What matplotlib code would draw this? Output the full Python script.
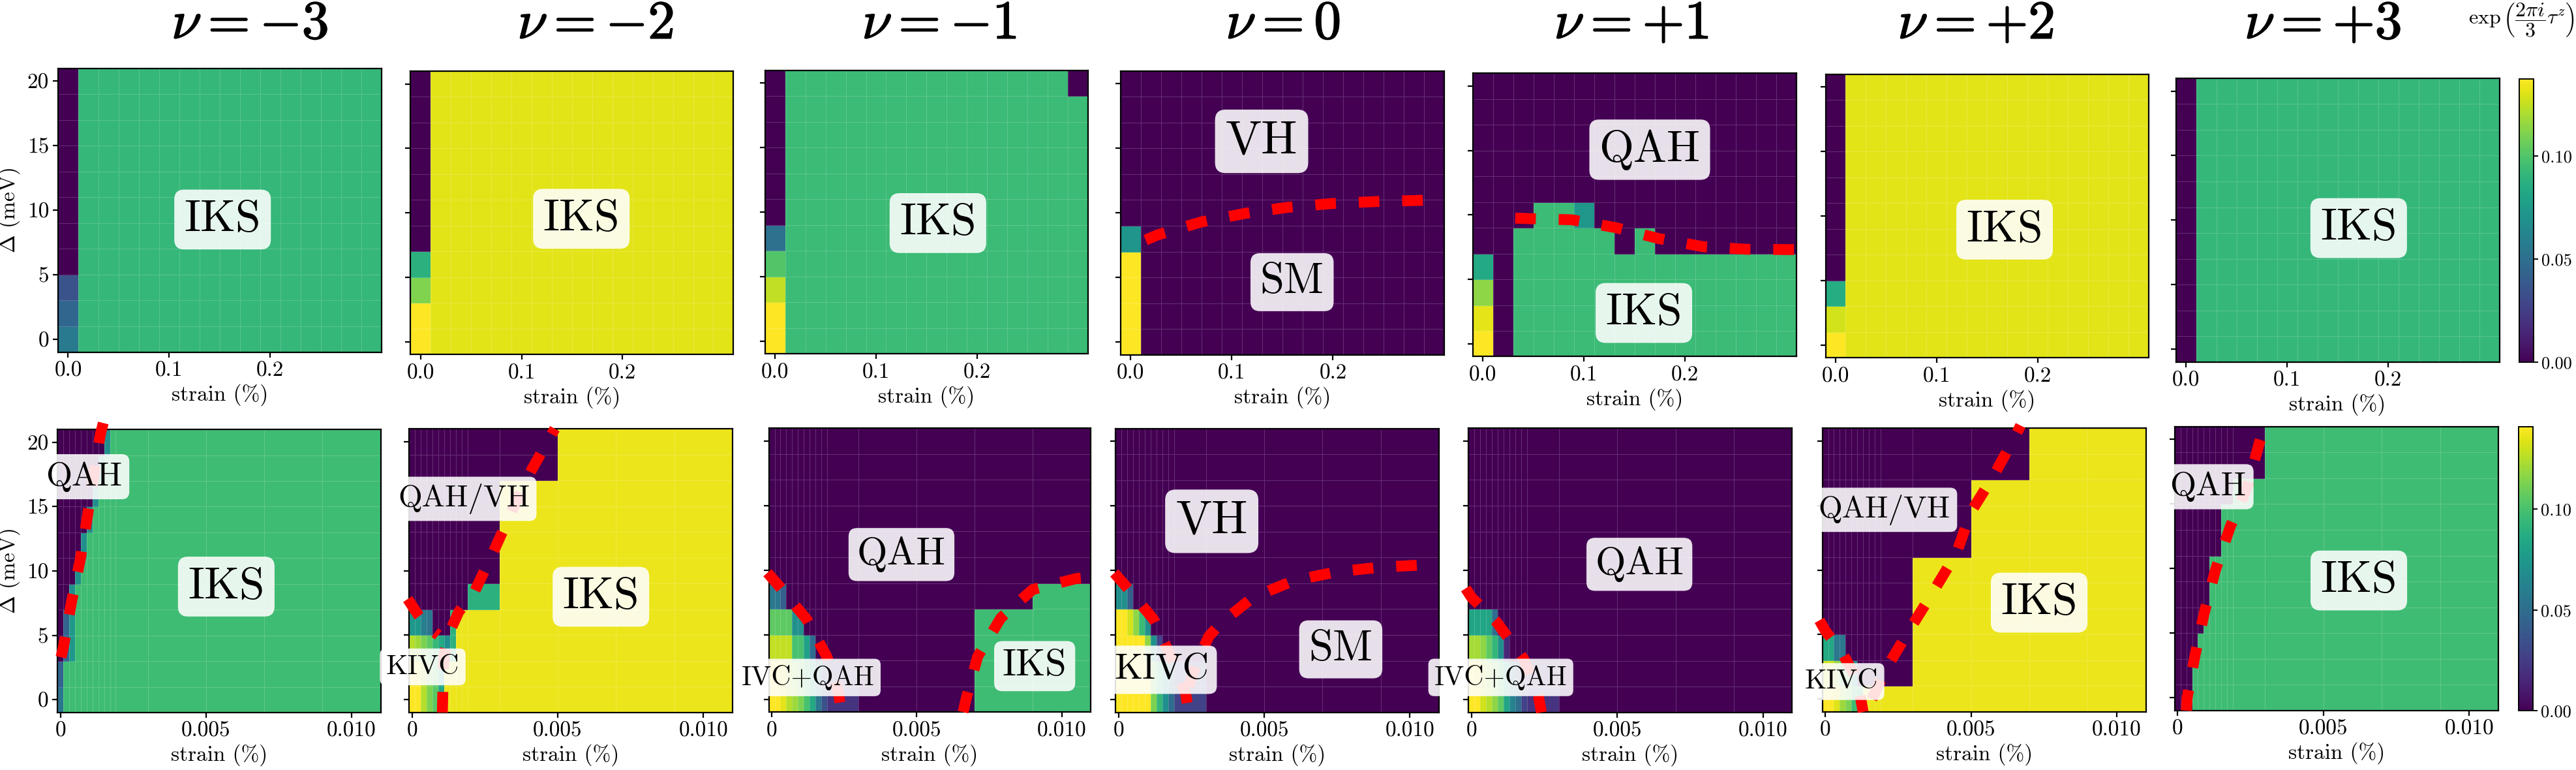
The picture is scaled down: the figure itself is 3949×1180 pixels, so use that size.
import numpy as np
import matplotlib
matplotlib.use("Agg")
import matplotlib.pyplot as plt
from matplotlib import patheffects as pe

plt.rcParams['mathtext.fontset'] = 'cm'
plt.rcParams['font.family'] = ['cmr10', 'DejaVu Serif']
plt.rcParams['axes.formatter.use_mathtext'] = True

# ---------------- data ----------------
nu_titles = [r'$\nu = -3$', r'$\nu = -2$', r'$\nu = -1$', r'$\nu = 0$',
             r'$\nu = +1$', r'$\nu = +2$', r'$\nu = +3$']
delta = [0, 2, 4, 6, 8, 10, 12, 14, 16, 18, 20]
strain_top = [0.00, 0.02, 0.04, 0.06, 0.08, 0.10, 0.12, 0.14, 0.16, 0.18,
              0.20, 0.22, 0.24, 0.26, 0.28, 0.30]
strain_bot = [0.0, 0.0002, 0.0004, 0.0006, 0.0008, 0.0010, 0.0012, 0.0014,
              0.0016, 0.0018, 0.0020, 0.004, 0.006, 0.008, 0.010]
vmax_top = 0.1376
vmax_bot = 0.1409

# top row: rows = delta (0..20), cols = strain_top
top_nm3 = [
    [0.056] + [0.0915] * 15,
    [0.045] + [0.0915] * 15,
    [0.035] + [0.0915] * 15,
] + [[0.0] + [0.0915] * 15 for _ in range(8)]
top_nm2 = [
    [0.1376] + [0.1316] * 15,
    [0.1376] + [0.1316] * 15,
    [0.111] + [0.1316] * 15,
    [0.088] + [0.1316] * 15,
] + [[0.0] + [0.1316] * 15 for _ in range(7)]
top_nm1 = [
    [0.1376] + [0.0936] * 15,
    [0.1376] + [0.0936] * 15,
    [0.1245] + [0.0936] * 15,
    [0.100] + [0.0936] * 15,
    [0.051] + [0.0936] * 15,
] + [[0.0] + [0.0936] * 15 for _ in range(5)] + [[0.0] + [0.0936] * 14 + [0.0]]
top_n0 = [
    [0.1376] + [0.0] * 15,
    [0.1376] + [0.0] * 15,
    [0.1376] + [0.0] * 15,
    [0.1376] + [0.0] * 15,
    [0.072] + [0.0] * 15,
] + [[0.0] * 16 for _ in range(6)]
top_np1 = [
    [0.1376, 0.0] + [0.0936] * 14,
    [0.132, 0.0] + [0.0936] * 14,
    [0.114, 0.0] + [0.0936] * 14,
    [0.083, 0.0] + [0.0936] * 14,
    [0.0, 0.0, 0.0936, 0.0936, 0.0936, 0.0936, 0.0936, 0.0, 0.0936] + [0.0] * 7,
    [0.0, 0.0, 0.0, 0.0936, 0.0936, 0.073] + [0.0] * 10,
] + [[0.0] * 16 for _ in range(5)]
top_np2 = [
    [0.1376] + [0.1316] * 15,
    [0.128] + [0.1316] * 15,
    [0.085] + [0.1316] * 15,
] + [[0.0] + [0.1316] * 15 for _ in range(8)]
top_np3 = [[0.0] + [0.0915] * 15 for _ in range(11)]

# bottom row: rows = delta (0..20), cols = strain_bot
G, Y, B = 0.0973, 0.1366, 0.1409
bot_nm3 = [
    [0.055] + [G] * 14,
    [0.045] + [G] * 14,
    [0.0, 0.045, 0.075] + [G] * 12,
    [0.0, 0.045, 0.075] + [G] * 12,
    [0.0, 0.0, 0.070] + [G] * 12,
    [0.0, 0.0, 0.0, 0.070] + [G] * 11,
    [0.0] * 4 + [0.070] + [G] * 10,
    [0.0] * 5 + [0.070] + [G] * 9,
    [0.0] * 6 + [0.070] + [G] * 8,
    [0.0] * 7 + [0.070] + [G] * 7,
    [0.0] * 8 + [0.070] + [G] * 6,
]
bot_nm2 = [
    [B, B, 0.125, 0.113, 0.105, 0.083] + [Y] * 9,
    [B, B, 0.125, 0.113, 0.105, 0.083] + [Y] * 9,
    [0.125, 0.120, 0.113, 0.106, 0.095, 0.085, 0.070, 0.090] + [Y] * 7,
    [0.075, 0.075, 0.060, 0.055, 0.0, 0.0, 0.0, 0.090] + [Y] * 7,
    [0.0] * 10 + [0.090] + [Y] * 4,
    [0.0] * 11 + [Y] * 4,
    [0.0] * 11 + [Y] * 4,
    [0.0] * 11 + [Y] * 4,
    [0.0] * 11 + [Y] * 4,
    [0.0] * 12 + [Y] * 3,
    [0.0] * 12 + [Y] * 3,
]
bot_nm1 = [
    [B, B, 0.135, 0.125, 0.120, 0.113, 0.100, 0.085, 0.056, 0.035, 0.021, 0.0, 0.0, G, G],
    [B, B, 0.133, 0.125, 0.118, 0.110, 0.097, 0.080, 0.052, 0.032, 0.018, 0.0, 0.0, G, G],
    [0.128, 0.128, 0.128, 0.128, 0.100, 0.100, 0.080, 0.050, 0.0, 0.0, 0.0, 0.0, 0.0, G, G],
    [0.106, 0.106, 0.106, 0.106, 0.070, 0.070, 0.0, 0.0, 0.0, 0.0, 0.0, 0.0, 0.0, G, G],
    [0.056, 0.056, 0.042] + [0.0] * 11 + [G],
] + [[0.0] * 15 for _ in range(6)]
bot_n0 = [
    [B] * 6 + [0.113, 0.094, 0.070, 0.050, 0.028, 0.0, 0.0, 0.0, 0.0],
    [B] * 6 + [0.113, 0.094, 0.070, 0.050, 0.028, 0.0, 0.0, 0.0, 0.0],
    [B] * 5 + [0.117, 0.070, 0.028] + [0.0] * 7,
    [B, B, 0.131, 0.117, 0.096, 0.070] + [0.0] * 9,
    [0.070, 0.070, 0.042] + [0.0] * 12,
] + [[0.0] * 15 for _ in range(6)]
bot_np1 = [
    [B, B, 0.131, 0.125, 0.117, 0.106, 0.083, 0.063, 0.050, 0.028, 0.021, 0.0, 0.0, 0.0, 0.0],
    [B, 0.136, 0.128, 0.120, 0.113, 0.100, 0.080, 0.050, 0.030, 0.018, 0.010, 0.0, 0.0, 0.0, 0.0],
    [0.122, 0.122, 0.117, 0.106, 0.094, 0.070, 0.015] + [0.0] * 8,
    [0.083, 0.083, 0.083, 0.083, 0.050] + [0.0] * 10,
] + [[0.0] * 15 for _ in range(7)]
bot_np2 = [
    [B, B, 0.134, 0.120, 0.113, 0.097, 0.090] + [Y] * 8,
    [0.131, 0.131, 0.120, 0.106, 0.106, 0.070] + [0.0] * 5 + [Y] * 4,
    [0.085, 0.085, 0.056, 0.056] + [0.0] * 7 + [Y] * 4,
    [0.0] * 11 + [Y] * 4,
    [0.0] * 11 + [Y] * 4,
    [0.0] * 11 + [Y] * 4,
    [0.0] * 12 + [Y] * 3,
    [0.0] * 12 + [Y] * 3,
    [0.0] * 12 + [Y] * 3,
    [0.0] * 13 + [Y] * 2,
    [0.0] * 13 + [Y] * 2,
]
bot_np3_purple = [3, 3, 4, 5, 6, 6, 8, 8, 10, 11, 11]   # purple cells per row
bot_np3 = [[0.0] * n + [G] * (15 - n) for n in bot_np3_purple]

# boundary lines (strain, delta)
line_top_n0 = ([0.015, 0.027, 0.07, 0.113, 0.156, 0.20, 0.243, 0.30],
               [7.9, 8.3, 9.3, 9.96, 10.44, 10.73, 10.88, 11.0])
line_top_np1 = ([0.032, 0.045, 0.088, 0.132, 0.174, 0.218, 0.261, 0.315],
                [9.75, 9.71, 9.62, 9.0, 8.16, 7.53, 7.33, 7.3])
line_bot_nm3 = ([0.00002, 0.00011, 0.00038, 0.00068, 0.00093, 0.00116, 0.00137, 0.00147],
                [3.3, 4.2, 7.6, 10.9, 14.3, 17.7, 20.6, 21.5])
line_bot_nm2_a = ([-0.00015, 0.0002, 0.0005, 0.0009], [7.8, 6.6, 5.7, 5.0])
line_bot_nm2_b = ([0.00104, 0.00106, 0.0011, 0.0013, 0.0016, 0.00215, 0.0028, 0.0034, 0.0041, 0.0049],
                  [-1.0, 1.0, 3.5, 5.3, 6.8, 8.4, 11.5, 14.5, 17.8, 21.0])
line_bot_nm1_a = ([-0.00015, 0.0002, 0.0012, 0.0019, 0.0023, 0.0024], [9.8, 8.9, 6.2, 3.3, 0.5, -1.0])
line_bot_nm1_b = ([0.0066, 0.0067, 0.0071, 0.0079, 0.009, 0.0105, 0.011], [-1.0, 0.0, 3.3, 6.3, 8.5, 9.35, 9.45])
line_bot_n0_a = ([-0.00015, 0.0002, 0.0012, 0.0018, 0.0023, 0.0024], [9.8, 8.9, 6.2, 3.3, 0.5, -1.0])
line_bot_n0_b = ([0.0024, 0.0027, 0.0031, 0.0035, 0.0046, 0.006, 0.0075, 0.009, 0.0105, 0.011],
                 [1.0, 3.0, 4.9, 5.9, 7.9, 9.2, 9.9, 10.25, 10.43, 10.45])
line_bot_np1_a = ([-0.0002, 0.0, 0.00086, 0.0018, 0.0023, 0.0024], [8.6, 7.9, 6.0, 3.1, 0.2, -1.0])
line_bot_np2_a = ([-0.0002, 0.0, 0.0006, 0.0011, 0.0013], [6.1, 5.3, 3.5, 1.5, -1.0])
line_bot_np2_b = ([0.0016, 0.0021, 0.0029, 0.0037, 0.0045, 0.0050, 0.0058, 0.0065, 0.0067],
                  [0.0, 2.4, 5.4, 8.3, 11.3, 14.5, 17.4, 20.3, 21.2])
line_bot_np3 = ([0.0003, 0.00033, 0.0006, 0.00092, 0.0013, 0.0018, 0.0024, 0.0028, 0.003],
                [-1.0, 0.0, 3.3, 6.6, 9.9, 13.2, 16.4, 19.7, 21.2])

top_data = [top_nm3, top_nm2, top_nm1, top_n0, top_np1, top_np2, top_np3]
bot_data = [bot_nm3, bot_nm2, bot_nm1, bot_n0, bot_np1, bot_np2, bot_np3]
top_lines = [[], [], [], [line_top_n0], [line_top_np1], [], []]
bot_lines = [[line_bot_nm3], [line_bot_nm2_a, line_bot_nm2_b], [line_bot_nm1_a, line_bot_nm1_b],
             [line_bot_n0_a, line_bot_n0_b], [line_bot_np1_a], [line_bot_np2_a, line_bot_np2_b],
             [line_bot_np3]]

# phase labels: (text, x_axes_frac, y_axes_frac, fontsize)
top_labels = [
    [('IKS', 0.509, 0.467, 50)],
    [('IKS', 0.529, 0.479, 50)],
    [('IKS', 0.535, 0.461, 50)],
    [('VH', 0.436, 0.752, 53), ('SM', 0.530, 0.256, 48)],
    [('QAH', 0.547, 0.730, 49), ('IKS', 0.529, 0.154, 50)],
    [('IKS', 0.554, 0.452, 50)],
    [('IKS', 0.565, 0.472, 50)],
]
bot_labels = [
    [('QAH', 0.081, 0.833, 37), ('IKS', 0.522, 0.445, 50)],
    [('QAH/VH', 0.169, 0.753, 34), ('KIVC', 0.042, 0.161, 31), ('IKS', 0.593, 0.408, 50)],
    [('QAH', 0.412, 0.555, 43), ('IVC+QAH', 0.122, 0.122, 30), ('IKS', 0.826, 0.162, 42)],
    [('VH', 0.297, 0.673, 53), ('SM', 0.696, 0.222, 48), ('KIVC', 0.142, 0.150, 40)],
    [('QAH', 0.528, 0.521, 43), ('IVC+QAH', 0.0996, 0.123, 30)],
    [('QAH/VH', 0.192, 0.712, 34), ('KIVC', 0.059, 0.107, 31), ('IKS', 0.670, 0.385, 50)],
    [('QAH', 0.103, 0.788, 37), ('IKS', 0.569, 0.458, 50)],
]

# ---------------- layout (pixels) ----------------
W, H, DPI = 3949, 1180, 100
top_boxes = [(89, 104.5, 584.5, 539.6), (629.4, 109, 1124.4, 543.4), (1172.6, 107.5, 1668.3, 542.3),
             (1717.5, 108.7, 2214.2, 543.8), (2257.7, 112.1, 2753.7, 546.5), (2798.5, 113.7, 3294, 548.4),
             (3335.5, 119.8, 3831.7, 554.9)]
bot_boxes = [(88.2, 658.1, 583.7, 1092), (627.2, 657, 1123, 1092), (1178.7, 656.2, 1672, 1091.3),
             (1710.4, 656.6, 2206, 1091.7), (2251.3, 656.2, 2747.3, 1091.7), (2793.6, 656, 3289.7, 1091),
             (3333.7, 653.6, 3830, 1089)]
cbar_boxes = [(3862.3, 120.5, 3884, 555), (3860.7, 654, 3882.7, 1089)]
title_x = [383, 913, 1440, 1967, 2501, 3029, 3561]

fig = plt.figure(figsize=(W / DPI, H / DPI), dpi=DPI)


def px_axes(box):
    l, t, r, b = box
    return fig.add_axes([l / W, 1 - b / H, (r - l) / W, (b - t) / H])


box_style = dict(boxstyle='round,pad=0.22', fc='white', ec='none', alpha=0.88)


def draw_panel(ax, xs, Z, vmax, lines, labels, first, xticks, xticklabels):
    xs = np.array(xs)
    mesh = ax.pcolormesh(xs, np.array(delta), np.array(Z), shading='nearest',
                         cmap='viridis', vmin=0, vmax=vmax,
                         edgecolors=(1, 1, 1, 0.18), linewidth=0.7)
    x_lo = xs[0] - (xs[1] - xs[0]) / 2
    x_hi = xs[-1] + (xs[-1] - xs[-2]) / 2
    for lx, ly in lines:
        ax.plot(lx, ly, color='red', lw=12, dashes=(1.9, 2.1), dash_capstyle='butt',
                solid_capstyle='butt', clip_on=False, zorder=4)
    ax.set_xlim(x_lo, x_hi)
    ax.set_ylim(-1, 21)
    for s, fx, fy, fs in labels:
        ax.text(fx, fy, s, transform=ax.transAxes, ha='center', va='center',
                fontsize=fs, bbox=box_style, zorder=6)
    ax.set_xticks(xticks)
    ax.set_xticklabels(xticklabels)
    ax.set_yticks([0, 5, 10, 15, 20])
    ax.tick_params(direction='out', length=6, width=1.6, labelsize=24, pad=4)
    ax.set_xlabel('strain (%)', fontsize=24, labelpad=4)
    if first:
        ax.set_yticklabels(['0', '5', '10', '15', '20'])
        ax.set_ylabel(r'$\Delta$ (meV)', fontsize=24, labelpad=6)
    else:
        ax.tick_params(labelleft=False)
    for sp in ax.spines.values():
        sp.set_linewidth(1.6)
    return mesh


for i in range(7):
    ax = px_axes(top_boxes[i])
    draw_panel(ax, strain_top, top_data[i], vmax_top, top_lines[i], top_labels[i], i == 0,
               [0.0, 0.1, 0.2], ['0.0', '0.1', '0.2'])
    fig.text(title_x[i] / W, 1 - 59 / H, nu_titles[i], ha='center', va='baseline', fontsize=60,
             path_effects=[pe.withStroke(linewidth=1.2, foreground='black')])
    ax2 = px_axes(bot_boxes[i])
    draw_panel(ax2, strain_bot, bot_data[i], vmax_bot, bot_lines[i], bot_labels[i], i == 0,
               [0.0, 0.005, 0.010], ['0', '0.005', '0.010'])

for box, vmax in zip(cbar_boxes, [vmax_top, vmax_bot]):
    cax = px_axes(box)
    sm = plt.cm.ScalarMappable(cmap='viridis', norm=plt.Normalize(0, vmax))
    cb = fig.colorbar(sm, cax=cax, ticks=[0.0, 0.05, 0.10], format='%.2f')
    cb.ax.tick_params(labelsize=19, length=5, width=1.4)
    cb.outline.set_linewidth(1.4)

fig.text(3947 / W, 1 - 31 / H, r'$\exp\left(\dfrac{2\pi i}{3}\tau^z\right)$', ha='right', va='center',
         fontsize=23)

fig.savefig('out.png', dpi=DPI)
